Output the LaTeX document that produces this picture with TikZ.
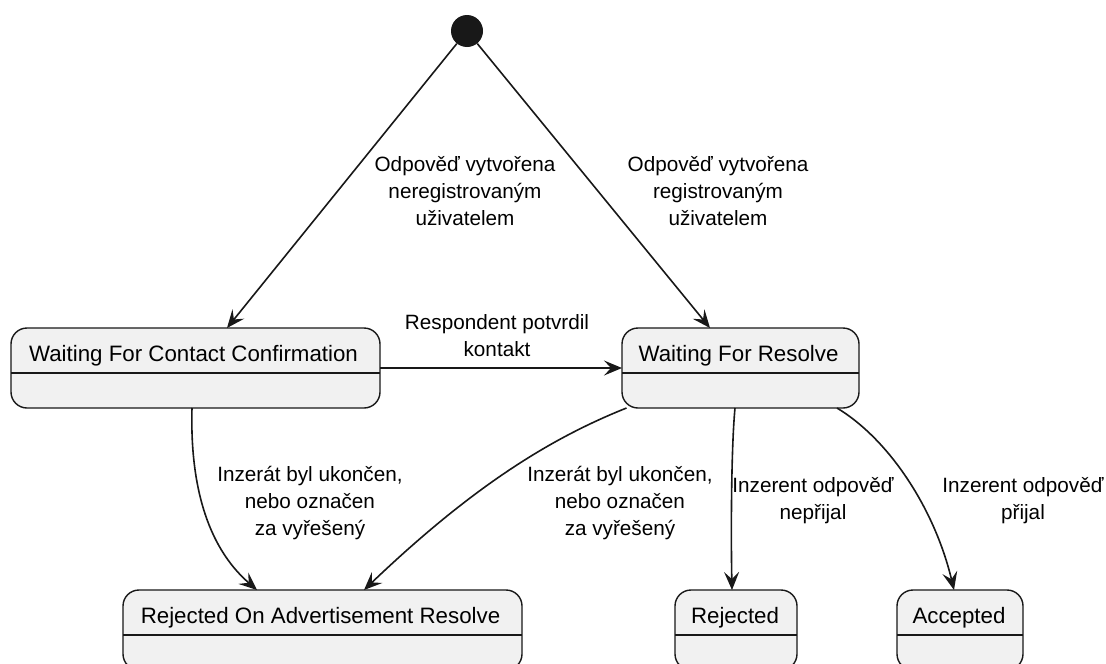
\documentclass[tikz,border=0pt]{standalone}
\usepackage{fontspec}
\setmainfont{Liberation Sans}
\usetikzlibrary{arrows.meta}
\definecolor{statefill}{HTML}{F1F1F1}
\definecolor{ink}{HTML}{181818}
\begin{document}
\begin{tikzpicture}[x=1pt,y=-1pt,
  statebox/.style={draw=ink, fill=statefill, line width=1.4pt, rounded corners=16pt,
    minimum height=80pt, inner sep=0pt, outer sep=0pt},
  divider/.style={draw=ink, line width=1.4pt},
  statename/.style={anchor=base, font=\fontsize{22.3}{26}\selectfont, inner sep=0pt},
  edge/.style={draw=ink, line width=1.6pt, -{Stealth[length=18pt,width=15pt,inset=7pt]}},
  lbl/.style={align=center, font=\fontsize{20.7}{27}\selectfont, inner sep=0pt},
]
\useasboundingbox (0,0) rectangle (1106,664);
\fill[white] (0,0) rectangle (1106,664);

% initial pseudo-state
\node[circle, fill=ink, minimum size=32pt, inner sep=0pt] (init) at (467,31) {};

% state boxes
\node[statebox, minimum width=369pt] (wfcc) at (195.5,368) {};
\node[statebox, minimum width=237pt] (wfr)  at (740.5,368) {};
\node[statebox, minimum width=399pt] (roar) at (322.5,630) {};
\node[statebox, minimum width=122pt] (rej)  at (736,630) {};
\node[statebox, minimum width=126pt] (acc)  at (960,630) {};

% compartment lines
\foreach \s in {wfcc,wfr,roar,rej,acc}
  \draw[divider] ([yshift=-5pt]\s.west) -- ([yshift=-5pt]\s.east);

% state names
\node[statename] (wfcc-name) at ([xshift=-2pt,yshift=7pt]wfcc.center) {Waiting For Contact Confirmation};
\node[statename] (wfr-name)  at ([xshift=-2pt,yshift=7pt]wfr.center)  {Waiting For Resolve};
\node[statename] (roar-name) at ([xshift=-2pt,yshift=7pt]roar.center) {Rejected On Advertisement Resolve};
\node[statename] (rej-name)  at ([xshift=-1pt,yshift=7pt]rej.center)  {Rejected};
\node[statename] (acc-name)  at ([xshift=-1pt,yshift=7pt]acc.center)  {Accepted};

% transitions
\draw[edge] (init) -- ([xshift=31.5pt]wfcc.north);
\draw[edge] (init) -- ([xshift=-30.5pt]wfr.north);
\draw[edge] (wfcc.east) -- (wfr.west);
\draw[edge] ([xshift=-3.5pt]wfcc.south) .. controls +(-2,72) and +(-52,-45) .. ([xshift=-65.5pt]roar.north);
\draw[edge] ([xshift=-114pt]wfr.south) .. controls +(-75,30) and +(110,-105) .. ([xshift=41.5pt]roar.north);
\draw[edge] ([xshift=-5.5pt]wfr.south) .. controls +(-4,42) and +(-1,-50) .. ([xshift=-4pt]rej.north);
\draw[edge] ([xshift=96.5pt]wfr.south) .. controls +(53,32) and +(-19,-80) .. ([xshift=-6pt]acc.north);

% transition labels
\node[lbl] (l1) at (465,191) {Odpověď vytvořena\\neregistrovaným\\uživatelem};
\node[lbl] (l2) at (718,191) {Odpověď vytvořena\\registrovaným\\uživatelem};
\node[lbl] (l3) at (497,336) {Respondent potvrdil\\kontakt};
\node[lbl] (l4) at (310,503) {Inzerát byl ukončen,\\nebo označen\\za vyřešený};
\node[lbl] (l5) at (620,503) {Inzerát byl ukončen,\\nebo označen\\za vyřešený};
\node[lbl] (l6) at (813,501) {Inzerent odpověď\\nepřijal};
\node[lbl] (l7) at (1023,501) {Inzerent odpověď\\přijal};
\end{tikzpicture}
\end{document}
